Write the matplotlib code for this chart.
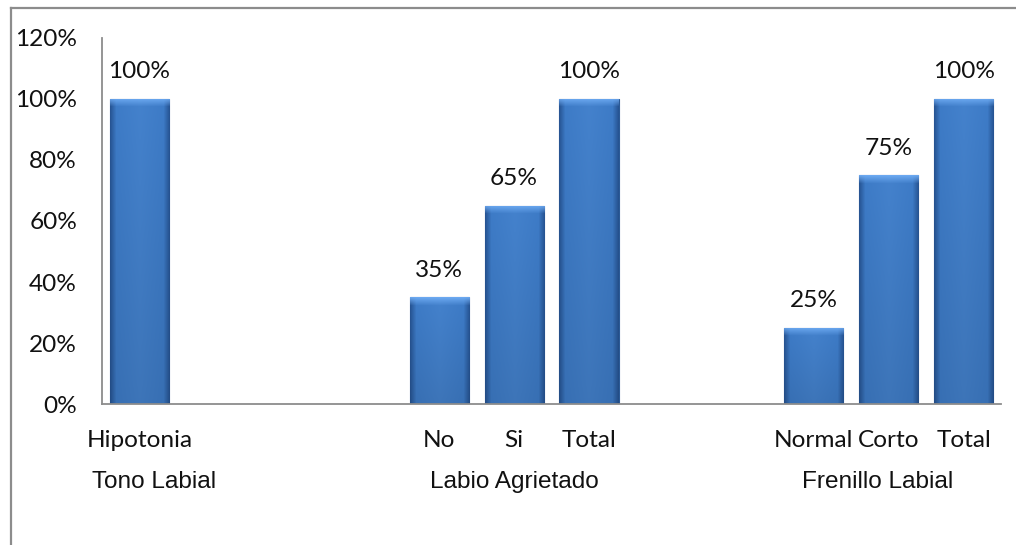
import matplotlib
matplotlib.use('Agg')
import matplotlib.pyplot as plt
import numpy as np
from matplotlib.lines import Line2D

# ---- data ----
categories = ['Hipotonia', '', '', '', 'No', 'Si', 'Total', '', '', 'Normal', 'Corto', 'Total']
values = [100, None, None, None, 35, 65, 100, None, None, 25, 75, 100]
groups = ['Tono Labial', 'Labio Agrietado', 'Frenillo Labial']
group_members = [[0], [4, 5, 6], [9, 10, 11]]
yticks = [0, 20, 40, 60, 80, 100, 120]
ytick_labels = ['0%', '20%', '40%', '60%', '80%', '100%', '120%']

FONT = 'Lato'
GROUP_FONT = 'Liberation Sans'
FS = 17.6

fig = plt.figure(figsize=(10.16, 5.45), dpi=100)
fig.patch.set_facecolor('white')
ax = fig.add_axes([0.1004, 0.2587, 0.885, 0.6716])

x = np.arange(len(categories))
bx = [i for i, v in enumerate(values) if v is not None]
bv = [values[i] for i in bx]
bars = ax.bar(bx, bv, width=0.79, color='#3D7AC6', edgecolor='#2B5A96',
              linewidth=0.8, zorder=2)

ax.set_xlim(-0.5, len(categories) - 0.5)
ax.set_ylim(0, 120)

# bevel / gradient shading on each bar
ppu_y = (fig.get_figheight() * fig.dpi * 0.6716) / 120.0
for rect, v in zip(bars, bv):
    x0, y0 = rect.get_x(), rect.get_y()
    w, h = rect.get_width(), rect.get_height()
    hpx = h * ppu_y
    n_h = max(int(hpx), 2)
    n_w = 60
    img = np.zeros((n_h, n_w, 4))
    base = np.array([0.235, 0.478, 0.776])
    light = np.array([0.38, 0.62, 0.90])
    dark = np.array([0.14, 0.31, 0.55])
    u = np.linspace(0, 1, n_w)
    edge = np.clip(1 - np.minimum(u, 1 - u) / 0.10, 0, 1)  # 1 at sides
    center = 1 - np.abs(u - 0.5) * 2
    for r in range(n_h):
        col = np.tile(base, (n_w, 1))
        col = col + (light - base) * (0.22 * center)[:, None]
        col = col + (dark - col) * (0.85 * edge)[:, None]
        if r < 8:
            t = 1 - r / 8.0
            col = col + (light + 0.06 - col) * (0.9 * t)
        bottom_frac = r / max(n_h - 1, 1)
        col = col * (1 - 0.10 * bottom_frac)
        img[r, :, :3] = np.clip(col, 0, 1)
        img[r, :, 3] = 1.0
    im = ax.imshow(img, extent=(x0, x0 + w, y0, y0 + h), origin='upper',
                   aspect='auto', zorder=2.5, interpolation='bilinear')
    im.set_clip_path(rect)

ax.set_xlim(-0.5, len(categories) - 0.5)
ax.set_ylim(0, 120)
ax.set_aspect('auto')

# value labels
for i, v in zip(bx, bv):
    ax.annotate(f'{v}%', xy=(i, v), xytext=(0, 19.5), textcoords='offset points',
                ha='center', va='center', fontsize=FS, family=FONT, color='#111111')

# axes styling
for s in ['top', 'right']:
    ax.spines[s].set_visible(False)
ax.spines['left'].set_color('#8c8c8c')
ax.spines['bottom'].set_color('#8c8c8c')
ax.spines['left'].set_linewidth(1.3)
ax.spines['bottom'].set_linewidth(1.3)

ax.set_yticks(yticks)
ax.set_yticklabels(ytick_labels, fontsize=FS, family=FONT, color='#111111')
ax.tick_params(axis='y', length=0, pad=18)

ax.set_xticks(x)
ax.set_xticklabels(categories, fontsize=FS, family=FONT, color='#111111')
ax.tick_params(axis='x', length=0, pad=18.5)

# group labels
group_offsets = [0.19, 0.0, -0.15]
for name, mem, off in zip(groups, group_members, group_offsets):
    cx = np.mean(mem) + off
    ax.text(cx, -25.5, name, ha='center', va='center', fontsize=FS,
            family=GROUP_FONT, color='#111111', transform=ax.transData, clip_on=False)

# outer frame (left and top only visible)
fig.add_artist(Line2D([10.5 / 1016, 10.5 / 1016], [0, 1 - 8 / 545], transform=fig.transFigure,
                      color='#8c8c8c', linewidth=1.6))
fig.add_artist(Line2D([10.5 / 1016, 1], [1 - 8 / 545, 1 - 8 / 545], transform=fig.transFigure,
                      color='#8c8c8c', linewidth=1.6))

fig.savefig('out.png', dpi=100, facecolor='white')
